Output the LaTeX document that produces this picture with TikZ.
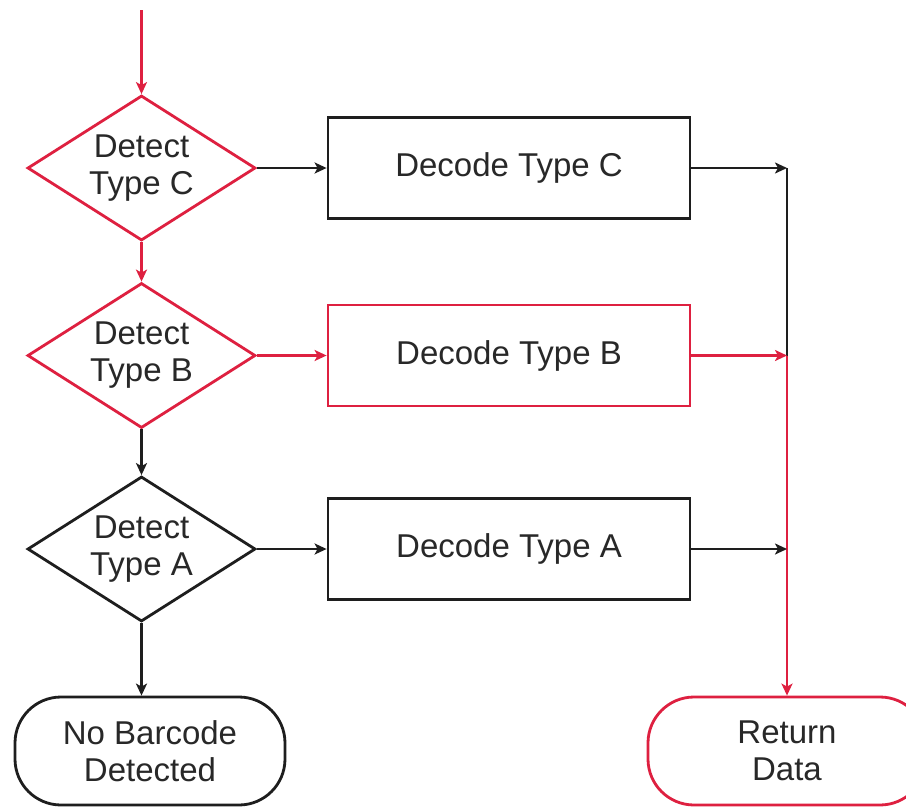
\documentclass[tikz,border=0pt]{standalone}
\usepackage{fontspec}
\setmainfont{Liberation Sans}
\usetikzlibrary{shapes.geometric,arrows.meta}
\definecolor{fred}{RGB}{222,32,64}
\definecolor{ink}{RGB}{30,30,30}
\definecolor{txt}{RGB}{40,40,40}
\tikzset{
  base/.style={line width=2.8pt, draw=ink, text=txt, font=\fontsize{33}{37}\selectfont, align=center},
  decision/.style={base, shape=diamond, aspect=1.6, inner sep=0pt, minimum width=228pt, minimum height=145pt},
  process/.style={base, rectangle, minimum width=362pt, minimum height=101pt, inner sep=0pt},
  terminal/.style={base, rectangle, rounded corners=46pt, inner sep=0pt},
  flow/.style={line width=2.8pt, draw=ink, -{Stealth[length=12pt,width=11pt,inset=3pt]}},
  plain/.style={line width=2.8pt, draw=ink},
  redc/.style={draw=fred},
}
\begin{document}
\begin{tikzpicture}[x=1pt,y=-1pt]
\clip (0,0) rectangle (906,807);
\fill[white] (0,0) rectangle (906,807);

\node[decision, redc] (dc) at (141.5,168) {Detect\\Type C};
\node[decision, redc] (db) at (141.5,355.5) {Detect\\Type B};
\node[decision] (da) at (141.5,549) {Detect\\Type A};

\node[process] (pc) at (509,168) {Decode Type C};
\node[process, redc] (pb) at (509,355.5) {Decode Type B};
\node[process] (pa) at (509,549) {Decode Type A};

\node[terminal, minimum width=270pt, minimum height=108pt] (nb) at (150,751) {No Barcode\\Detected};
\node[terminal, redc, minimum width=278pt, minimum height=108pt] (rd) at (787,751) {Return\\Data};

\coordinate (top) at (141.5,10);
\coordinate (jc) at (787,168);
\coordinate (jb) at (787,355.5);
\coordinate (ja) at (787,549);

\draw[flow, draw=fred] (top) -- (dc.north);
\draw[flow, draw=fred] (dc.south) -- (db.north);
\draw[flow] (db.south) -- (da.north);
\draw[flow] (da.south) -- (da.south |- nb.north);

\draw[flow] (dc.east) -- (pc.west);
\draw[flow, draw=fred] (db.east) -- (pb.west);
\draw[flow] (da.east) -- (pa.west);

\draw[plain] (jc) -- (jb);
\draw[flow, draw=fred] (jb) -- (rd.north);
\draw[flow] (pc.east) -- (jc);
\draw[flow, draw=fred] (pb.east) -- (jb);
\draw[flow] (pa.east) -- (ja);
\end{tikzpicture}
\end{document}
